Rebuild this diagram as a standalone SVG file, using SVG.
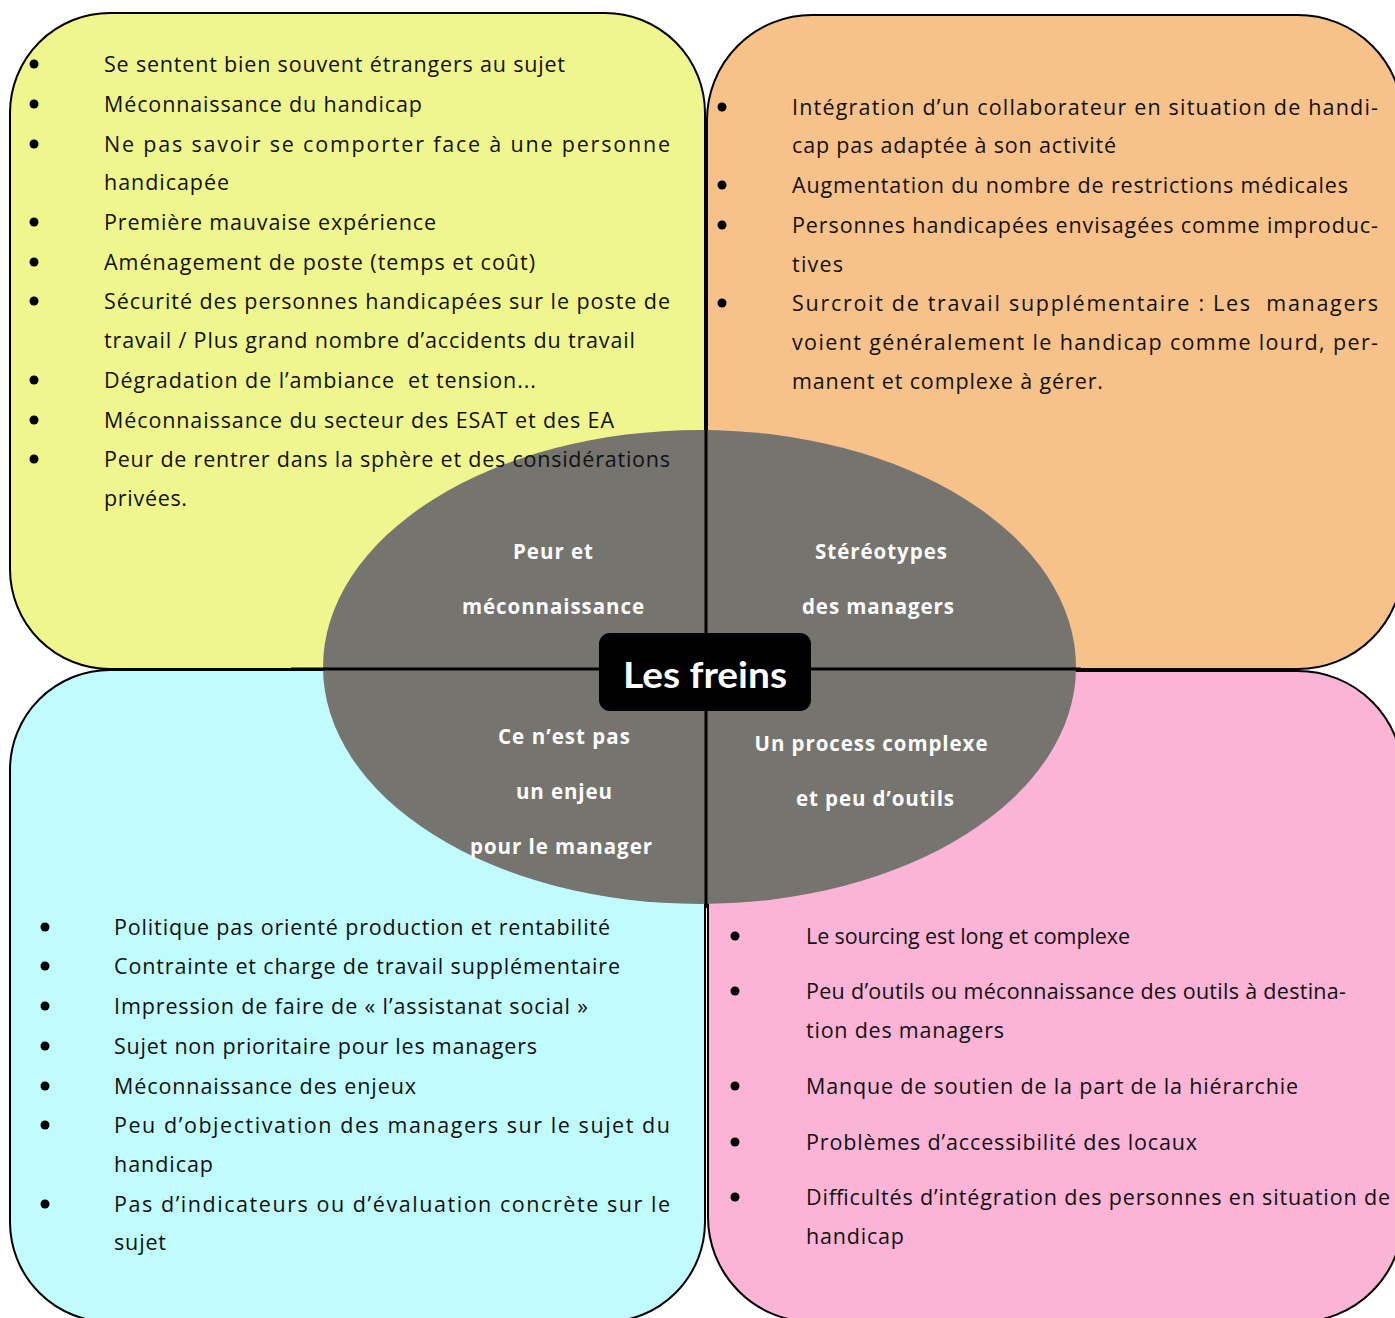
<svg xmlns="http://www.w3.org/2000/svg" width="1395" height="1318" viewBox="0 0 1395 1318">
<style>
.box{stroke:#000;stroke-width:2}
.t{font-family:"Open Sans",Lato,"Liberation Sans",sans-serif;font-size:21.5px;fill:#111}
.g{font-family:"Open Sans",Lato,"Liberation Sans",sans-serif;font-size:20.5px;font-weight:bold;fill:#fff;text-anchor:middle}
.c{font-family:Lato,"Open Sans","Liberation Sans",sans-serif;font-size:37px;font-weight:bold;fill:#fff;text-anchor:middle}
.b{fill:#000}
.ln{stroke:#000;stroke-width:3;fill:none}
</style>
<rect width="1395" height="1318" fill="#fff"/>
<g id="quadrant-shapes">
<rect class="box" x="10" y="13" width="695" height="656" rx="100" ry="100" fill="#F0F68E"/>
<rect class="box" x="707" y="15" width="696" height="654" rx="105" ry="105" fill="#F7C18A"/>
<rect class="box" x="10" y="670" width="695" height="652" rx="100" ry="100" fill="#C0FBFD"/>
<rect class="box" x="708" y="671" width="695" height="651" rx="105" ry="105" fill="#FBB4D6"/>
</g>
<g id="centre-ellipse">
<ellipse cx="699.5" cy="667" rx="376.5" ry="237" fill="#76746F"/>
</g>
<g id="connectors">
<line class="ln" x1="706" y1="428" x2="706" y2="908"/>
<line class="ln" x1="291" y1="669" x2="1081" y2="669"/>
</g>
<g id="centre-label">
<rect x="599" y="633" width="212" height="78" rx="11" ry="11" fill="#000"/>
<text class="c" x="705" y="688" textLength="164" lengthAdjust="spacingAndGlyphs">Les freins</text>
</g>
<g id="label-peur">
<text class="g" x="553" y="559" textLength="80">Peur et</text>
<text class="g" x="553" y="614" textLength="182">méconnaissance</text>
</g>
<g id="label-stereotypes">
<text class="g" x="881" y="559" textLength="132">Stéréotypes</text>
<text class="g" x="878" y="614" textLength="152">des managers</text>
</g>
<g id="label-enjeu">
<text class="g" x="564" y="744" textLength="132">Ce n’est pas</text>
<text class="g" x="564" y="799" textLength="96">un enjeu</text>
<text class="g" x="561" y="854" textLength="182">pour le manager</text>
</g>
<g id="label-process">
<text class="g" x="871" y="751" textLength="233">Un process complexe</text>
<text class="g" x="875" y="806" textLength="158">et peu d’outils</text>
</g>
<g id="list-yellow">
<circle class="b" cx="34" cy="64" r="4.5"/>
<circle class="b" cx="34" cy="104" r="4.5"/>
<circle class="b" cx="34" cy="144" r="4.5"/>
<circle class="b" cx="34" cy="222" r="4.5"/>
<circle class="b" cx="34" cy="262" r="4.5"/>
<circle class="b" cx="34" cy="301" r="4.5"/>
<circle class="b" cx="34" cy="380" r="4.5"/>
<circle class="b" cx="34" cy="420" r="4.5"/>
<circle class="b" cx="34" cy="459" r="4.5"/>
<text class="t" x="104" y="72" textLength="461">Se sentent bien souvent étrangers au sujet</text>
<text class="t" x="104" y="112" textLength="318">Méconnaissance du handicap</text>
<text class="t" x="104" y="152" textLength="566">Ne pas savoir se comporter face à une personne</text>
<text class="t" x="104" y="190" textLength="125">handicapée</text>
<text class="t" x="104" y="230" textLength="332">Première mauvaise expérience</text>
<text class="t" x="104" y="270" textLength="431">Aménagement de poste (temps et coût)</text>
<text class="t" x="104" y="309" textLength="566">Sécurité des personnes handicapées sur le poste de</text>
<text class="t" x="104" y="348" textLength="531">travail / Plus grand nombre d’accidents du travail</text>
<text class="t" x="104" y="388" textLength="432">Dégradation de l’ambiance&#160; et tension...</text>
<text class="t" x="104" y="428" textLength="510">Méconnaissance du secteur des ESAT et des EA</text>
<text class="t" x="104" y="467" textLength="566">Peur de rentrer dans la sphère et des considérations</text>
<text class="t" x="104" y="506" textLength="83">privées.</text>
</g>
<g id="list-orange">
<circle class="b" cx="722" cy="107" r="4.5"/>
<circle class="b" cx="722" cy="185" r="4.5"/>
<circle class="b" cx="722" cy="225" r="4.5"/>
<circle class="b" cx="722" cy="303" r="4.5"/>
<text class="t" x="792" y="115" textLength="586">Intégration d’un collaborateur en situation de handi-</text>
<text class="t" x="792" y="153" textLength="324">cap pas adaptée à son activité</text>
<text class="t" x="792" y="193" textLength="556">Augmentation du nombre de restrictions médicales</text>
<text class="t" x="792" y="233" textLength="586">Personnes handicapées envisagées comme improduc-</text>
<text class="t" x="792" y="272" textLength="51">tives</text>
<text class="t" x="792" y="311" textLength="586">Surcroit de travail supplémentaire : Les&#160; managers</text>
<text class="t" x="792" y="350" textLength="586">voient généralement le handicap comme lourd, per-</text>
<text class="t" x="792" y="389" textLength="311">manent et complexe à gérer.</text>
</g>
<g id="list-cyan">
<circle class="b" cx="45" cy="927" r="4.5"/>
<circle class="b" cx="45" cy="966" r="4.5"/>
<circle class="b" cx="45" cy="1006" r="4.5"/>
<circle class="b" cx="45" cy="1046" r="4.5"/>
<circle class="b" cx="45" cy="1086" r="4.5"/>
<circle class="b" cx="45" cy="1125" r="4.5"/>
<circle class="b" cx="45" cy="1204" r="4.5"/>
<text class="t" x="114" y="935" textLength="496">Politique pas orienté production et rentabilité</text>
<text class="t" x="114" y="974" textLength="506">Contrainte et charge de travail supplémentaire</text>
<text class="t" x="114" y="1014" textLength="474">Impression de faire de « l’assistanat social »</text>
<text class="t" x="114" y="1054" textLength="423">Sujet non prioritaire pour les managers</text>
<text class="t" x="114" y="1094" textLength="302">Méconnaissance des enjeux</text>
<text class="t" x="114" y="1133" textLength="556">Peu d’objectivation des managers sur le sujet du</text>
<text class="t" x="114" y="1172" textLength="99">handicap</text>
<text class="t" x="114" y="1212" textLength="556">Pas d’indicateurs ou d’évaluation concrète sur le</text>
<text class="t" x="114" y="1250" textLength="52">sujet</text>
</g>
<g id="list-pink">
<circle class="b" cx="735" cy="936" r="4.5"/>
<circle class="b" cx="735" cy="991" r="4.5"/>
<circle class="b" cx="735" cy="1086" r="4.5"/>
<circle class="b" cx="735" cy="1142" r="4.5"/>
<circle class="b" cx="735" cy="1197" r="4.5"/>
<text class="t" x="806" y="944" textLength="324">Le sourcing est long et complexe</text>
<text class="t" x="806" y="999" textLength="540">Peu d’outils ou méconnaissance des outils à destina-</text>
<text class="t" x="806" y="1038" textLength="198">tion des managers</text>
<text class="t" x="806" y="1094" textLength="492">Manque de soutien de la part de la hiérarchie</text>
<text class="t" x="806" y="1150" textLength="391">Problèmes d’accessibilité des locaux</text>
<text class="t" x="806" y="1205" textLength="584">Difficultés d’intégration des personnes en situation de</text>
<text class="t" x="806" y="1244" textLength="98">handicap</text>
</g>
</svg>
